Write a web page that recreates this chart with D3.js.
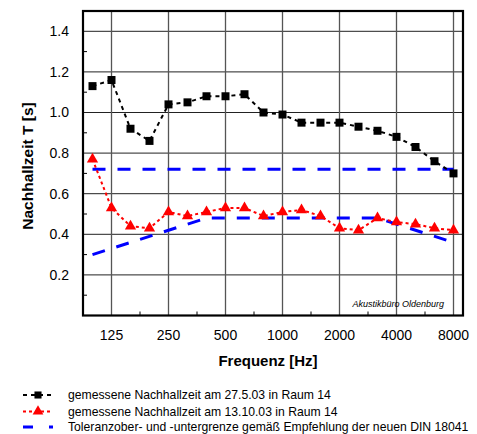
<!DOCTYPE html>
<html>
<head>
<meta charset="utf-8">
<script src="https://cdn.jsdelivr.net/npm/d3@7"></script>
<style>
  html, body { margin: 0; padding: 0; background: #fff; }
  svg { display: block; }
  text { font-family: "Liberation Sans", Arial, Helvetica, sans-serif; fill: #000; }
</style>
</head>
<body>
<svg id="chart" width="477" height="434"></svg>
<script>
// ---- data ----
const bands = ["100","125","160","200","250","315","400","500","630","800","1000","1250","1600","2000","2500","3150","4000","5000","6300","8000"];
const tickLabels = ["125","250","500","1000","2000","4000","8000"];
const yTicks = [0.2, 0.4, 0.6, 0.8, 1.0, 1.2, 1.4];
const yMinor = [0.1, 0.3, 0.5, 0.7, 0.9, 1.1, 1.3];
const series1 = [1.13, 1.16, 0.92, 0.86, 1.04, 1.05, 1.08, 1.08, 1.09, 1.00, 0.99, 0.95, 0.95, 0.95, 0.93, 0.91, 0.88, 0.83, 0.76, 0.70];
const series2 = [0.77, 0.53, 0.44, 0.43, 0.51, 0.49, 0.51, 0.53, 0.53, 0.49, 0.51, 0.52, 0.49, 0.43, 0.42, 0.48, 0.46, 0.45, 0.43, 0.42];
const upperBands = ["100", "8000"];
const upperValues = [0.72, 0.72];
const lowerBands = ["100", "400", "3150", "8000"];
const lowerValues = [0.30, 0.48, 0.48, 0.36];
const legendLabels = [
  "gemessene Nachhallzeit am 27.5.03 in Raum 14",
  "gemessene Nachhallzeit am 13.10.03 in Raum 14",
  "Toleranzober- und -untergrenze gemäß Empfehlung der neuen DIN 18041"
];
const watermark = "Akustikbüro Oldenburg";

// ---- layout ----
const L = 83, R = 463, T = 11, B = 315.5;
const svg = d3.select("#chart");

const xb = d3.scaleBand().domain(bands).range([L, R]).padding(0);
const x = f => xb(f) + xb.bandwidth() / 2;
const y = d3.scaleLinear().domain([0, 1.5]).range([B, T]);

// grid
const g = svg.append("g");
g.selectAll("line.h").data(yTicks).enter().append("line")
  .attr("x1", L).attr("x2", R)
  .attr("y1", d => y(d)).attr("y2", d => y(d))
  .attr("stroke", "#222").attr("stroke-width", 1);
g.selectAll("line.v").data(tickLabels).enter().append("line")
  .attr("x1", d => x(d)).attr("x2", d => x(d))
  .attr("y1", T).attr("y2", B)
  .attr("stroke", "#555").attr("stroke-width", 1.3);

// minor ticks left
g.selectAll("line.ym").data(yMinor).enter().append("line")
  .attr("x1", L).attr("x2", L + 4)
  .attr("y1", d => y(d)).attr("y2", d => y(d))
  .attr("stroke", "#000").attr("stroke-width", 1);
// minor ticks bottom (half-octave between labelled octaves)
const mids = d3.pairs(tickLabels).map(([a, b]) => (x(a) + x(b)) / 2);
g.selectAll("line.xm").data(mids).enter().append("line")
  .attr("x1", d => d).attr("x2", d => d)
  .attr("y1", B).attr("y2", B - 4)
  .attr("stroke", "#000").attr("stroke-width", 1);

// frame
svg.append("rect").attr("x", L).attr("y", T).attr("width", R - L).attr("height", B - T)
  .attr("fill", "none").attr("stroke", "#000").attr("stroke-width", 2.2);

// axes labels
svg.append("g").selectAll("text").data(yTicks).enter().append("text")
  .attr("x", 69).attr("y", d => y(d)).attr("dy", "0.35em")
  .attr("text-anchor", "end").attr("font-size", 14)
  .text(d => d.toFixed(1));
svg.append("g").selectAll("text").data(tickLabels).enter().append("text")
  .attr("x", d => x(d)).attr("y", 340)
  .attr("text-anchor", "middle").attr("font-size", 14)
  .text(d => d);

svg.append("text").attr("x", 268).attr("y", 366).attr("text-anchor", "middle")
  .attr("font-size", 15).attr("font-weight", "bold").text("Frequenz [Hz]");
svg.append("text").attr("transform", "translate(33,166) rotate(-90)").attr("text-anchor", "middle")
  .attr("font-size", 15.5).attr("font-weight", "bold").text("Nachhallzeit T [s]");

svg.append("text").attr("x", 444).attr("y", 307).attr("text-anchor", "end")
  .attr("font-size", 9).attr("font-style", "italic").text(watermark);

// lines
const line = d3.line().x(d => x(d[0])).y(d => y(d[1]));
svg.append("path").datum(d3.zip(upperBands, upperValues)).attr("d", line)
  .attr("fill", "none").attr("stroke", "#0000ff").attr("stroke-width", 3).attr("stroke-dasharray", "13,12");
svg.append("path").datum(d3.zip(lowerBands, lowerValues)).attr("d", line)
  .attr("fill", "none").attr("stroke", "#0000ff").attr("stroke-width", 3).attr("stroke-dasharray", "13,12");

svg.append("path").datum(d3.zip(bands, series1)).attr("d", line)
  .attr("fill", "none").attr("stroke", "#000").attr("stroke-width", 2).attr("stroke-dasharray", "4,4");
svg.append("g").selectAll("path").data(d3.zip(bands, series1)).enter().append("path")
  .attr("d", d3.symbol(d3.symbolSquare, 64))
  .attr("transform", d => `translate(${x(d[0])},${y(d[1])})`).attr("fill", "#000");

svg.append("path").datum(d3.zip(bands, series2)).attr("d", line)
  .attr("fill", "none").attr("stroke", "#ff0000").attr("stroke-width", 2).attr("stroke-dasharray", "3,3");
svg.append("g").selectAll("path").data(d3.zip(bands, series2)).enter().append("path")
  .attr("d", d3.symbol(d3.symbolTriangle, 55))
  .attr("transform", d => `translate(${x(d[0])},${y(d[1])})`).attr("fill", "#ff0000");

// legend
const ly = [395, 411.5, 427];
const lg = svg.append("g");
const styles = [
  {c: "#000", w: 2, da: "4,4", sym: d3.symbolSquare, s: 50},
  {c: "#ff0000", w: 2, da: "3,3", sym: d3.symbolTriangle, s: 50},
  {c: "#0000ff", w: 3, da: "10,16", sym: null}
];
legendLabels.forEach((t, i) => {
  const st = styles[i];
  lg.append("line").attr("x1", 23).attr("x2", 53).attr("y1", ly[i]).attr("y2", ly[i])
    .attr("stroke", st.c).attr("stroke-width", st.w).attr("stroke-dasharray", st.da);
  if (st.sym) lg.append("path").attr("d", d3.symbol(st.sym, st.s))
    .attr("transform", `translate(38,${ly[i]})`).attr("fill", st.c);
  lg.append("text").attr("x", 68).attr("y", ly[i]).attr("dy", "0.35em")
    .attr("font-size", 12.2).text(t);
});
</script>
</body>
</html>
